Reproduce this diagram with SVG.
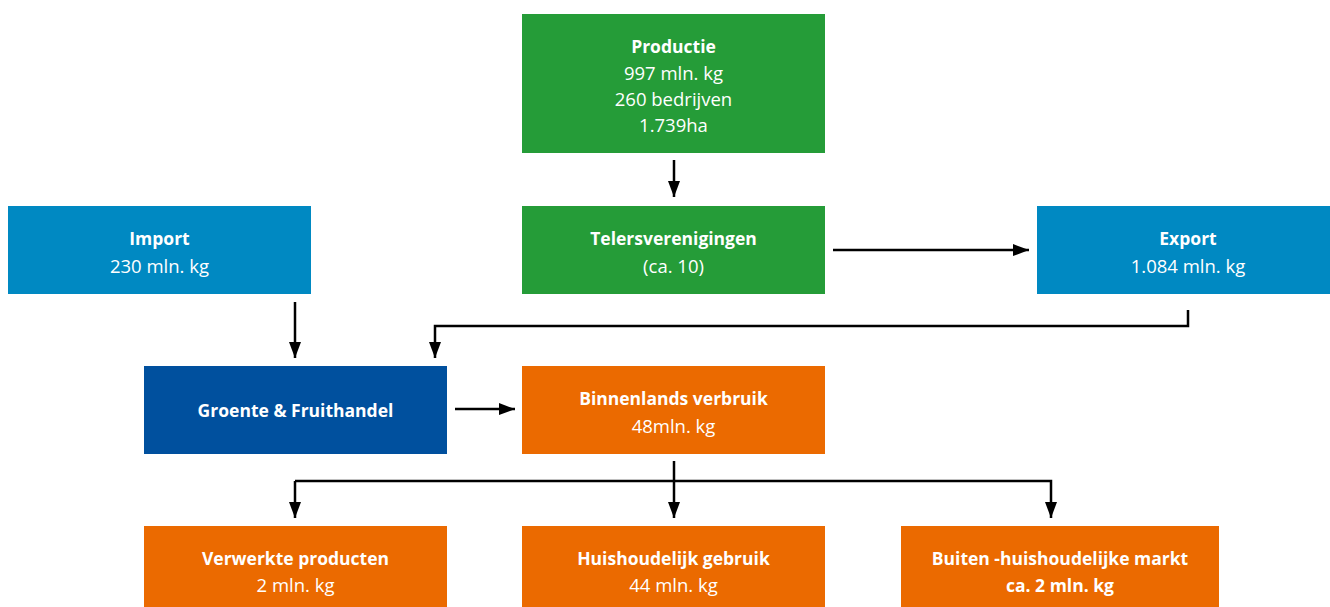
<svg xmlns="http://www.w3.org/2000/svg" width="1330" height="607" viewBox="0 0 1330 607">
<defs>
<marker id="ah" viewBox="0 0 16 12" refX="16" refY="6" markerWidth="16" markerHeight="12" markerUnits="userSpaceOnUse" orient="auto">
<path d="M0,0 L16,6 L0,12 Z" fill="#000"/>
</marker>
<style>
.g{fill:#259C38}.lb{fill:#0089C2}.db{fill:#00509E}.o{fill:#EB6A00}
text{font-family:"Open Sans","Noto Sans","Liberation Sans",sans-serif;fill:#fff;text-anchor:middle;font-size:18.5px}
.b{font-weight:bold;font-size:17.5px}
.c{stroke:#000;stroke-width:2.5;fill:none}
.a{marker-end:url(#ah)}
</style>
</defs>
<rect width="1330" height="607" fill="#fff"/>
<g id="productie"><rect class="g" x="522" y="14" width="303" height="139"/>
<text class="b" x="673.5" y="53">Productie</text>
<text x="673.5" y="80">997 mln. kg</text>
<text x="673.5" y="106">260 bedrijven</text>
<text x="673.5" y="132">1.739ha</text></g>
<g id="telers"><rect class="g" x="522" y="206" width="303" height="88"/>
<text class="b" x="673.5" y="245">Telersverenigingen</text>
<text x="673.5" y="273">(ca. 10)</text></g>
<g id="import"><rect class="lb" x="8" y="206" width="303" height="88"/>
<text class="b" x="159.5" y="245">Import</text>
<text x="159.5" y="273">230 mln. kg</text></g>
<g id="export"><rect class="lb" x="1037" y="206" width="293" height="88"/>
<text class="b" x="1188" y="245">Export</text>
<text x="1188" y="273">1.084 mln. kg</text></g>
<g id="handel"><rect class="db" x="144" y="366" width="303" height="88"/>
<text class="b" x="295.5" y="417">Groente &amp; Fruithandel</text></g>
<g id="binnenlands"><rect class="o" x="522" y="366" width="303" height="88"/>
<text class="b" x="673.5" y="405">Binnenlands verbruik</text>
<text x="673.5" y="433">48mln. kg</text></g>
<g id="verwerkte"><rect class="o" x="144" y="526" width="303" height="81"/>
<text class="b" x="295.5" y="565">Verwerkte producten</text>
<text x="295.5" y="592">2 mln. kg</text></g>
<g id="huishoudelijk"><rect class="o" x="522" y="526" width="303" height="81"/>
<text class="b" x="673.5" y="565">Huishoudelijk gebruik</text>
<text x="673.5" y="592">44 mln. kg</text></g>
<g id="buiten"><rect class="o" x="901" y="526" width="318" height="81"/>
<text class="b" x="1060" y="565">Buiten -huishoudelijke markt</text>
<text class="b" x="1060" y="592">ca. 2 mln. kg</text></g>
<g id="connectors">
<line class="c a" x1="674" y1="160" x2="674" y2="197"/>
<line class="c a" x1="833" y1="250" x2="1029" y2="250"/>
<line class="c a" x1="295" y1="302" x2="295" y2="358"/>
<polyline class="c a" points="1188,310 1188,326 435,326 435,358"/>
<line class="c a" x1="455" y1="409" x2="515" y2="409"/>
<line class="c" x1="674" y1="461" x2="674" y2="481"/>
<polyline class="c a" points="295,481 1051,481 1051,518"/>
<line class="c a" x1="295" y1="481" x2="295" y2="518"/>
<line class="c a" x1="674" y1="481" x2="674" y2="518"/>
</g>
</svg>
